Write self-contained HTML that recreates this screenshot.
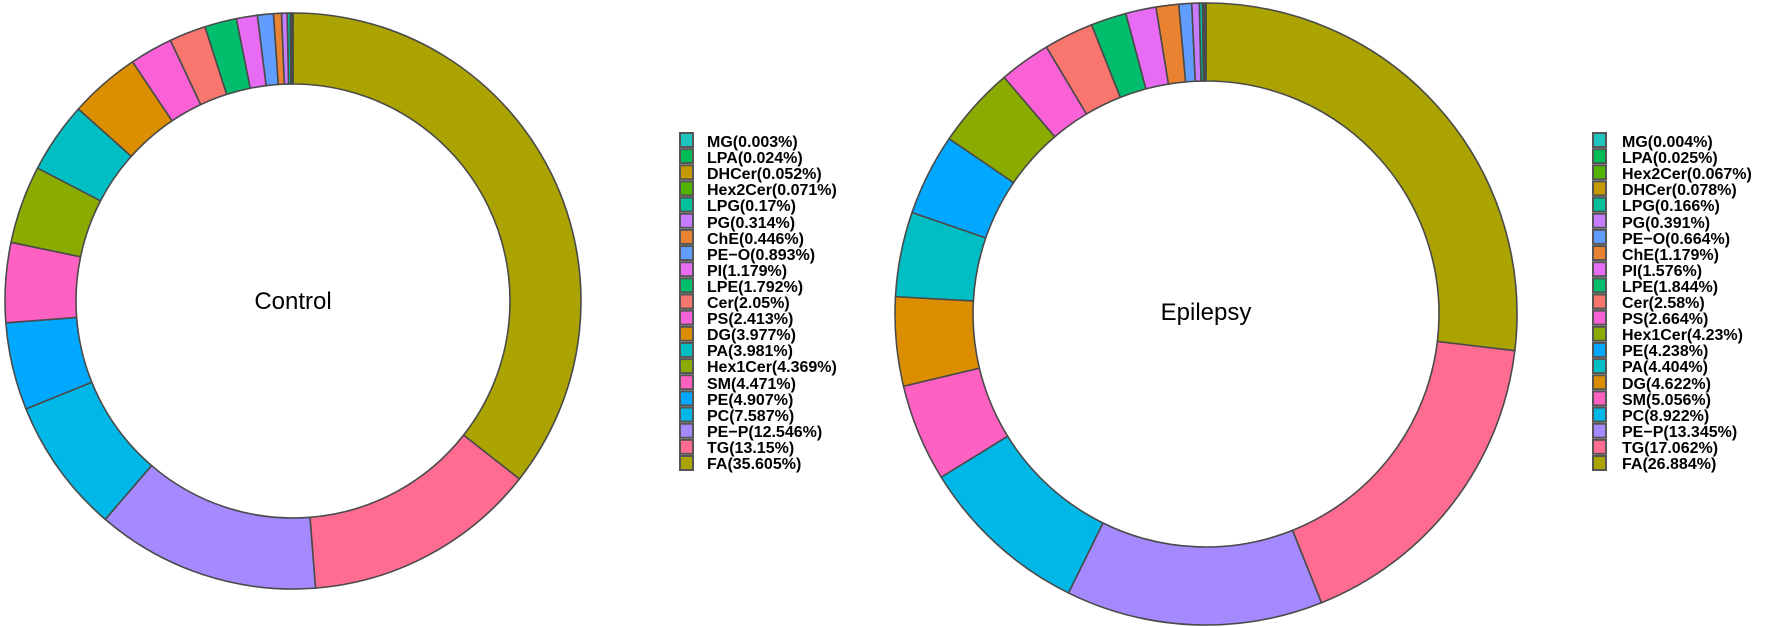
<!DOCTYPE html>
<html><head><meta charset="utf-8"><style>
html,body{margin:0;padding:0;background:#fff;}
svg{display:block;}
text{font-family:"Liberation Sans",Arial,sans-serif;}
.lg text{font-weight:bold;font-size:16px;fill:#000;}
</style></head><body>
<svg id="s" width="1772" height="627" viewBox="0 0 1772 627" xmlns="http://www.w3.org/2000/svg">
<g id="d1"></g><g id="d2"></g>
<text x="293" y="309" font-size="24" text-anchor="middle">Control</text>
<text x="1206" y="320" font-size="24" text-anchor="middle">Epilepsy</text>
<g class="lg" id="l1" transform="translate(680,2)">
<text x="27" y="145">MG(0.003%)</text>
<text x="27" y="161">LPA(0.024%)</text>
<text x="27" y="177">DHCer(0.052%)</text>
<text x="27" y="193">Hex2Cer(0.071%)</text>
<text x="27" y="209">LPG(0.17%)</text>
<text x="27" y="226">PG(0.314%)</text>
<text x="27" y="242">ChE(0.446%)</text>
<text x="27" y="258">PE−O(0.893%)</text>
<text x="27" y="274">PI(1.179%)</text>
<text x="27" y="290">LPE(1.792%)</text>
<text x="27" y="306">Cer(2.05%)</text>
<text x="27" y="322">PS(2.413%)</text>
<text x="27" y="338">DG(3.977%)</text>
<text x="27" y="354">PA(3.981%)</text>
<text x="27" y="370">Hex1Cer(4.369%)</text>
<text x="27" y="387">SM(4.471%)</text>
<text x="27" y="403">PE(4.907%)</text>
<text x="27" y="419">PC(7.587%)</text>
<text x="27" y="435">PE−P(12.546%)</text>
<text x="27" y="451">TG(13.15%)</text>
<text x="27" y="467">FA(35.605%)</text>
</g>
<g class="lg" id="l2" transform="translate(1593,2)">
<text x="29" y="145">MG(0.004%)</text>
<text x="29" y="161">LPA(0.025%)</text>
<text x="29" y="177">Hex2Cer(0.067%)</text>
<text x="29" y="193">DHCer(0.078%)</text>
<text x="29" y="209">LPG(0.166%)</text>
<text x="29" y="226">PG(0.391%)</text>
<text x="29" y="242">PE−O(0.664%)</text>
<text x="29" y="258">ChE(1.179%)</text>
<text x="29" y="274">PI(1.576%)</text>
<text x="29" y="290">LPE(1.844%)</text>
<text x="29" y="306">Cer(2.58%)</text>
<text x="29" y="322">PS(2.664%)</text>
<text x="29" y="338">Hex1Cer(4.23%)</text>
<text x="29" y="354">PE(4.238%)</text>
<text x="29" y="370">PA(4.404%)</text>
<text x="29" y="387">DG(4.622%)</text>
<text x="29" y="403">SM(5.056%)</text>
<text x="29" y="419">PC(8.922%)</text>
<text x="29" y="435">PE−P(13.345%)</text>
<text x="29" y="451">TG(17.062%)</text>
<text x="29" y="467">FA(26.884%)</text>
</g>
</svg>
<script>
var C={MG:"#1EC4BE",LPA:"#00BC56",DHCer:"#C49A00",Hex2Cer:"#53B400",LPG:"#00C19A",PG:"#C77CFF",ChE:"#EA8331",
"PE-O":"#619CFF",PI:"#E76BF3",LPE:"#00BE6C",Cer:"#F8766D",PS:"#FB61D7",DG:"#DB8E00",PA:"#00BFC4",Hex1Cer:"#8AAB00",
SM:"#FF61C3",PE:"#00A9FF",PC:"#00B8E7","PE-P":"#A58AFF",TG:"#FF6C91",FA:"#ABA300"};
var d1=[["MG",.003],["LPA",.024],["DHCer",.052],["Hex2Cer",.071],["LPG",.17],["PG",.314],["ChE",.446],["PE-O",.893],["PI",1.179],["LPE",1.792],["Cer",2.05],["PS",2.413],["DG",3.977],["PA",3.981],["Hex1Cer",4.369],["SM",4.471],["PE",4.907],["PC",7.587],["PE-P",12.546],["TG",13.15],["FA",35.605]];
var d2=[["MG",.004],["LPA",.025],["Hex2Cer",.067],["DHCer",.078],["LPG",.166],["PG",.391],["PE-O",.664],["ChE",1.179],["PI",1.576],["LPE",1.844],["Cer",2.58],["PS",2.664],["Hex1Cer",4.23],["PE",4.238],["PA",4.404],["DG",4.622],["SM",5.056],["PC",8.922],["PE-P",13.345],["TG",17.062],["FA",26.884]];
var NS="http://www.w3.org/2000/svg";
function donut(g,data,cx,cy,R,r){
 var tot=0;data.forEach(function(d){tot+=d[1];});
 var items=data.slice().reverse();var a=0;
 items.forEach(function(d){
  var a0=a/tot*2*Math.PI,a1=(a+d[1])/tot*2*Math.PI;a+=d[1];
  function p(rr,t){return [cx+rr*Math.sin(t),cy-rr*Math.cos(t)];}
  var lg=(a1-a0)>Math.PI?1:0;
  var A=p(R,a0),B=p(R,a1),Cc=p(r,a1),D=p(r,a0);
  var s="M"+A+" A"+R+","+R+" 0 "+lg+" 1 "+B+" L"+Cc+" A"+r+","+r+" 0 "+lg+" 0 "+D+"Z";
  var e=document.createElementNS(NS,"path");e.setAttribute("d",s);e.setAttribute("fill",C[d[0]]);
  e.setAttribute("stroke","#4a4a4a");e.setAttribute("stroke-width","1.6");e.setAttribute("stroke-linejoin","round");
  g.appendChild(e);
 });
}
donut(document.getElementById("d1"),d1,293,301,288,217);
donut(document.getElementById("d2"),d2,1206,314,311,233);
function legend(id,data){
 var g=document.getElementById(id);
 data.forEach(function(d,i){
  var y=131+i*16.15;
  var e=document.createElementNS(NS,"rect");
  e.setAttribute("x",0);e.setAttribute("y",y);e.setAttribute("width",13);e.setAttribute("height",14);
  e.setAttribute("fill",C[d[0]]);e.setAttribute("stroke","#555");e.setAttribute("stroke-width","2");
  g.insertBefore(e,g.firstChild);
 });
}
legend("l1",d1);legend("l2",d2);
</script>
</body></html>
